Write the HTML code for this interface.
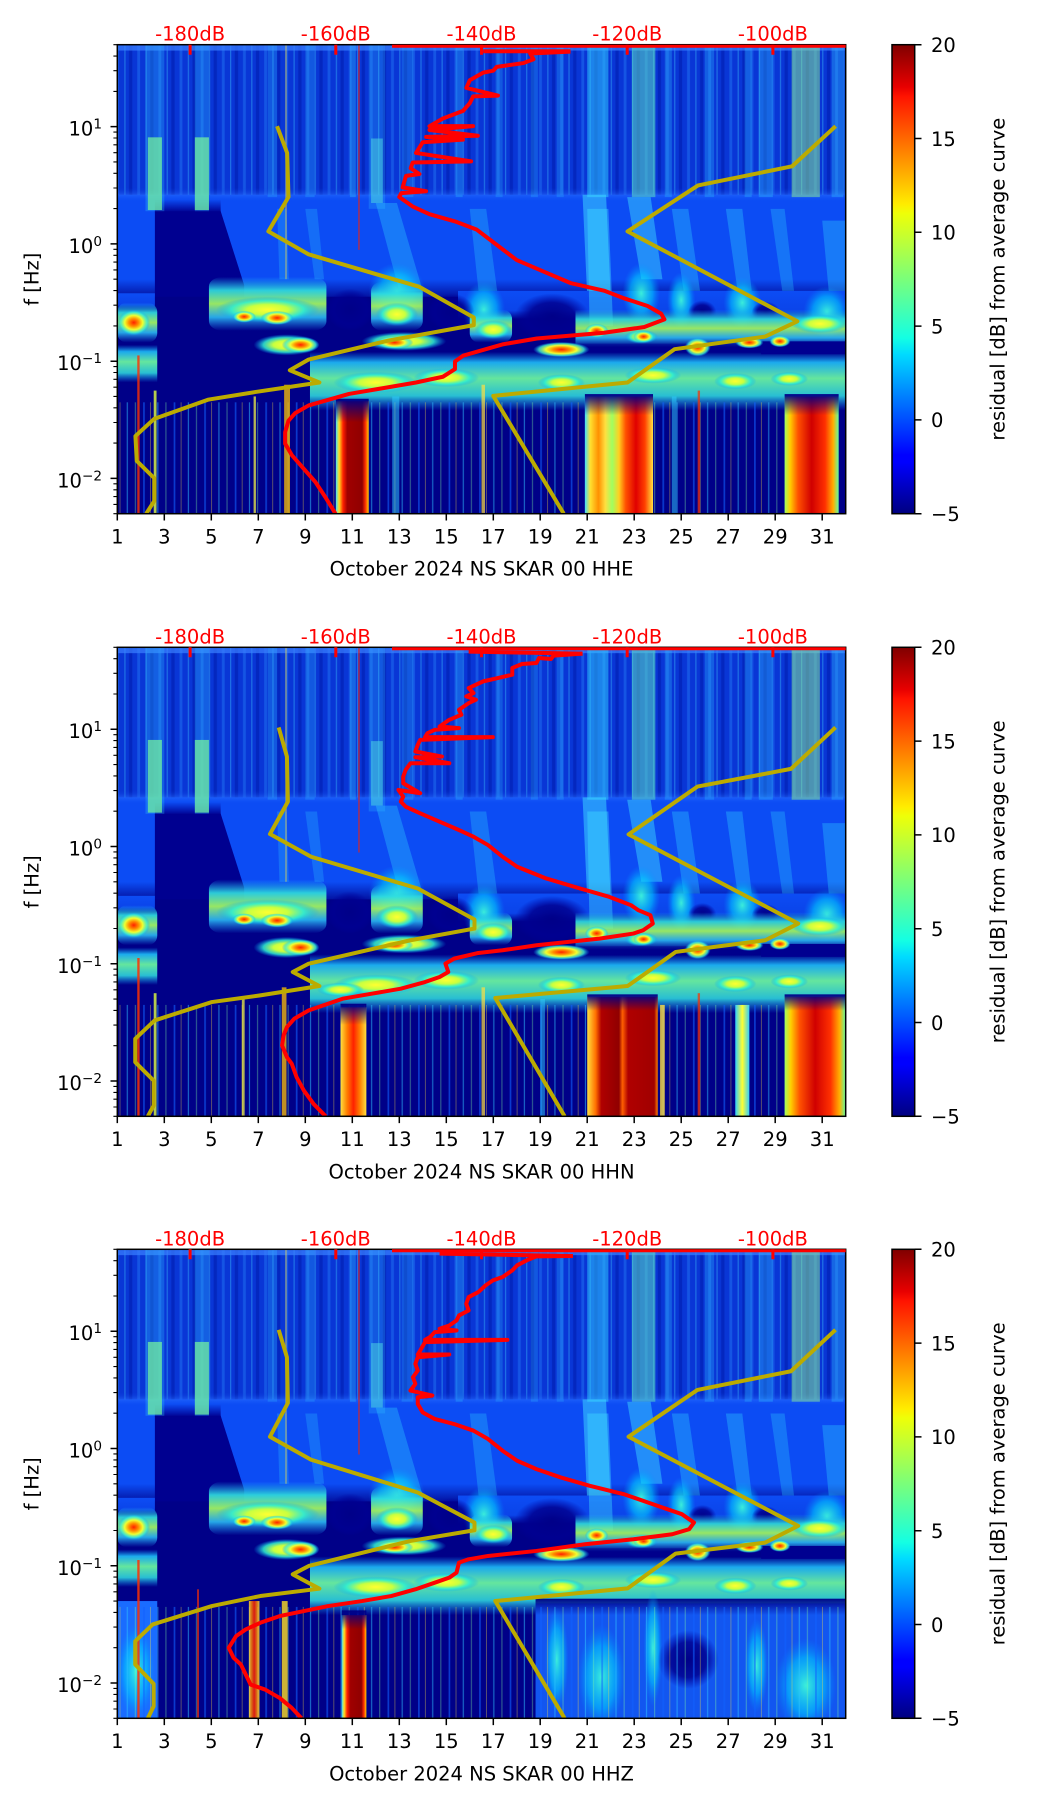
<!DOCTYPE html>
<html><head><meta charset="utf-8"><style>
html,body{margin:0;padding:0;background:#fff;}
svg{display:block;}
text{font-family:"DejaVu Sans","Liberation Sans",sans-serif;}
</style></head><body>
<svg width="1052" height="1806" viewBox="0 0 1052 1806">
<defs>
<linearGradient id="jet" x1="0" y1="1" x2="0" y2="0">
<stop offset="0" stop-color="#000080"/><stop offset=".11" stop-color="#0000ff"/><stop offset=".125" stop-color="#0000ff"/><stop offset=".34" stop-color="#00dbff"/><stop offset=".375" stop-color="#14ffe3"/><stop offset=".5" stop-color="#7aff7a"/><stop offset=".64" stop-color="#eeff08"/><stop offset=".66" stop-color="#ffec00"/><stop offset=".89" stop-color="#ff1300"/><stop offset=".91" stop-color="#e80000"/><stop offset="1" stop-color="#800000"/>
</linearGradient>
<radialGradient id="gC"><stop offset="0" stop-color="#40ffd8" stop-opacity=".9"/><stop offset=".6" stop-color="#00c8ff" stop-opacity=".6"/><stop offset="1" stop-color="#0090ff" stop-opacity="0"/></radialGradient>
<radialGradient id="gY"><stop offset="0" stop-color="#ffff30"/><stop offset=".4" stop-color="#c8ff40"/><stop offset=".7" stop-color="#30f0d0" stop-opacity=".85"/><stop offset="1" stop-color="#00a0ff" stop-opacity="0"/></radialGradient>
<radialGradient id="gO"><stop offset="0" stop-color="#ff2000"/><stop offset=".3" stop-color="#ff9000"/><stop offset=".55" stop-color="#f0ff30"/><stop offset=".8" stop-color="#40f0d0" stop-opacity=".8"/><stop offset="1" stop-color="#00a0ff" stop-opacity="0"/></radialGradient>
<radialGradient id="gN"><stop offset="0" stop-color="#000088"/><stop offset=".6" stop-color="#000090" stop-opacity=".85"/><stop offset="1" stop-color="#0000a0" stop-opacity="0"/></radialGradient>
<linearGradient id="cR"><stop offset="0" stop-color="#40e0ff"/><stop offset=".1" stop-color="#ffe020"/><stop offset=".22" stop-color="#ff2000"/><stop offset=".35" stop-color="#a00000"/><stop offset=".8" stop-color="#900000"/><stop offset=".9" stop-color="#ff3000"/><stop offset="1" stop-color="#ffd000"/></linearGradient>
<linearGradient id="cR2"><stop offset="0" stop-color="#a0ff60"/><stop offset=".1" stop-color="#ffd000"/><stop offset=".25" stop-color="#ff5000"/><stop offset=".5" stop-color="#d00000"/><stop offset=".75" stop-color="#ff3000"/><stop offset=".9" stop-color="#ffb000"/><stop offset="1" stop-color="#60ffa0"/></linearGradient>
<linearGradient id="cR3"><stop offset="0" stop-color="#ffe040"/><stop offset=".12" stop-color="#ff7000"/><stop offset=".2" stop-color="#b00000"/><stop offset=".45" stop-color="#900000"/><stop offset=".5" stop-color="#ff6000"/><stop offset=".58" stop-color="#b00000"/><stop offset=".95" stop-color="#a00000"/><stop offset="1" stop-color="#ff8000"/></linearGradient>
<linearGradient id="cW"><stop offset="0" stop-color="#40e0ff"/><stop offset=".08" stop-color="#ffe030"/><stop offset=".2" stop-color="#ff9000"/><stop offset=".3" stop-color="#ffe040"/><stop offset=".4" stop-color="#a0ff60"/><stop offset=".5" stop-color="#ffd020"/><stop offset=".6" stop-color="#ff5000"/><stop offset=".75" stop-color="#e00000"/><stop offset=".88" stop-color="#ff4000"/><stop offset="1" stop-color="#ffe040"/></linearGradient>
<linearGradient id="cO"><stop offset="0" stop-color="#ffe040"/><stop offset=".25" stop-color="#ff8000"/><stop offset=".5" stop-color="#ff2000"/><stop offset=".75" stop-color="#ff8000"/><stop offset="1" stop-color="#ffe040"/></linearGradient>
<linearGradient id="cY"><stop offset="0" stop-color="#30d0ff"/><stop offset=".5" stop-color="#ffff30"/><stop offset="1" stop-color="#30d0ff"/></linearGradient>
<linearGradient id="fd" x1="0" y1="0" x2="0" y2="1"><stop offset="0" stop-color="#000088"/><stop offset="1" stop-color="#000088" stop-opacity="0"/></linearGradient>
<linearGradient id="fBN" x1="0" y1="0" x2="0" y2="1"><stop offset="0" stop-color="#0c4cf4"/><stop offset="1" stop-color="#000088"/></linearGradient>
<linearGradient id="fNv" x1="0" y1="0" x2="0" y2="1"><stop offset="0" stop-color="#000090" stop-opacity="0"/><stop offset="1" stop-color="#000090"/></linearGradient>
<linearGradient id="fAB" x1="0" y1="0" x2="0" y2="1"><stop offset="0" stop-color="#0b40e0" stop-opacity="0"/><stop offset=".5" stop-color="#2a70ff" stop-opacity=".5"/><stop offset="1" stop-color="#0c4cf4" stop-opacity="0"/></linearGradient>
<linearGradient id="bL" x1="0" y1="0" x2="0" y2="1"><stop offset="0" stop-color="#0c4cf4"/><stop offset=".7" stop-color="#0c4cf4" stop-opacity=".9"/><stop offset="1" stop-color="#0c4cf4" stop-opacity="0"/></linearGradient>
<linearGradient id="bM" x1="0" y1="0" x2="0" y2="1"><stop offset="0" stop-color="#20c0ff" stop-opacity="0"/><stop offset=".25" stop-color="#30e0e0" stop-opacity=".9"/><stop offset=".5" stop-color="#a8ff60" stop-opacity=".9"/><stop offset=".75" stop-color="#30d0ff" stop-opacity=".8"/><stop offset="1" stop-color="#20a0ff" stop-opacity="0"/></linearGradient>
<linearGradient id="bE" x1="0" y1="0" x2="0" y2="1"><stop offset="0" stop-color="#10a0ff" stop-opacity="0"/><stop offset=".18" stop-color="#20c8ff" stop-opacity=".85"/><stop offset=".45" stop-color="#70ffa0" stop-opacity=".9"/><stop offset=".75" stop-color="#30e0e0" stop-opacity=".85"/><stop offset="1" stop-color="#10a0ff" stop-opacity="0"/></linearGradient>
<pattern id="pA" x="0" y="0" width=".9" height="400" patternUnits="userSpaceOnUse">
<rect x=".05" y="0" width=".12" height="400" fill="#2a90ff" opacity=".35"/>
<rect x=".4" y="0" width=".05" height="400" fill="#40d0ff" opacity=".4"/>
<rect x=".6" y="0" width=".14" height="400" fill="#0018a8" opacity=".5"/>
</pattern>
<pattern id="pS" x="0" y="0" width="1.3" height="400" patternUnits="userSpaceOnUse">
<rect x=".1" y="0" width=".05" height="400" fill="#30c0ff" opacity=".55"/>
<rect x=".45" y="0" width=".04" height="400" fill="#80ffa0" opacity=".45"/>
<rect x=".8" y="0" width=".07" height="400" fill="#1060ff" opacity=".6"/>
<rect x="1.1" y="0" width=".03" height="400" fill="#ffe040" opacity=".5"/>
</pattern>

<g id="top">
<rect x="1" y="0" width="31" height="130" fill="#0936d6"/>
<rect x="1" y="0" width="31" height="130" fill="url(#pA)"/>
<rect x="1" y="0" width="31" height="5" fill="#3a80ff" opacity=".7"/>
<rect x="1" y="128" width="31" height="80" fill="#0c4cf4"/>
<rect x="1" y="200" width="31" height="20" fill="url(#fBN)"/>
<rect x="1" y="122" width="31" height="12" fill="url(#fAB)"/>
<polygon points="2.6,142 5.4,142 6.4,205 6.4,218 2.6,218" fill="#000090"/>
<rect x="2.6" y="132" width="2.8" height="11" fill="url(#fNv)"/>
<rect x="2.2" y="0" width=".8" height="142" fill="#30c0ff" opacity=".3"/>
<rect x="2.3" y="79" width=".6" height="62" fill="#70f0a0" opacity=".75"/>
<rect x="4.3" y="0" width=".6" height="142" fill="#30c0ff" opacity=".3"/>
<rect x="4.3" y="79" width=".6" height="62" fill="#70f0a0" opacity=".75"/>
<rect x="7.4" y="0" width=".4" height="130" fill="#30c0ff" opacity=".25"/>
<rect x="9" y="0" width=".4" height="130" fill="#30c0ff" opacity=".25"/>
<rect x="10.9" y="0" width=".25" height="130" fill="#30c0ff" opacity=".35"/>
<rect x="11.7" y="0" width=".7" height="140" fill="#30c0ff" opacity=".25"/>
<rect x="11.8" y="80" width=".5" height="55" fill="#50e0e0" opacity=".5"/>
<rect x="13.1" y="0" width=".5" height="130" fill="#30c0ff" opacity=".25"/>
<rect x="15.4" y="0" width=".3" height="130" fill="#30c0ff" opacity=".3"/>
<rect x="17.1" y="0" width=".3" height="130" fill="#30c0ff" opacity=".25"/>
<rect x="18.6" y="0" width=".3" height="130" fill="#30c0ff" opacity=".25"/>
<rect x="19.7" y="0" width=".3" height="130" fill="#30c0ff" opacity=".25"/>
<rect x="21" y="0" width=".9" height="130" fill="#30d0ff" opacity=".5"/>
<rect x="22.9" y="0" width="1" height="130" fill="#60e8c0" opacity=".5"/>
<rect x="24.3" y="0" width=".3" height="130" fill="#30c0ff" opacity=".3"/>
<rect x="26" y="0" width=".4" height="130" fill="#30c0ff" opacity=".3"/>
<rect x="27.7" y="0" width=".3" height="130" fill="#30c0ff" opacity=".3"/>
<rect x="28.3" y="0" width=".6" height="130" fill="#30c0ff" opacity=".35"/>
<rect x="29.7" y="0" width="1.2" height="130" fill="#90f090" opacity=".5"/>
<rect x="31.4" y="0" width=".5" height="130" fill="#30c0ff" opacity=".35"/>
<polygon points="12,135 12.9,135 14,210 13,210" fill="#30d0ff" opacity=".35"/>
<polygon points="16,140 16.7,140 17.2,215 16.4,215" fill="#30d0ff" opacity=".3"/>
<polygon points="20.8,128 21.8,128 22,215 21,215" fill="#40e0ff" opacity=".5"/>
<polygon points="22.7,130 23.7,130 24.2,200 23.3,200" fill="#40e0ff" opacity=".45"/>
<polygon points="24.6,140 25.3,140 25.8,210 25.1,210" fill="#30d0ff" opacity=".35"/>
<polygon points="26.9,140 27.6,140 28,210 27.4,210" fill="#30d0ff" opacity=".35"/>
<polygon points="28.8,140 29.4,140 29.8,210 29.3,210" fill="#30d0ff" opacity=".3"/>
<polygon points="31,150 32,150 32,215 31.3,215" fill="#30d0ff" opacity=".35"/>
<polygon points="9,140 9.5,140 9.8,200 9.4,200" fill="#30d0ff" opacity=".25"/>
<polygon points="7.8,140 8.2,140 8.3,200 7.9,200" fill="#30d0ff" opacity=".25"/>
<rect x="11.25" y="0" width=".07" height="175" fill="#ff2000" opacity=".6"/>
<rect x="8.15" y="0" width=".06" height="200" fill="#ffe040" opacity=".5"/>
</g>

<g id="mid">
<rect x="1" y="215" width="31" height="185" fill="#000088"/>
<rect x="15.5" y="210" width="16.5" height="24" fill="url(#bL)"/>
<rect x="1" y="212" width="1.6" height="14" fill="url(#bL)"/>
<polygon points="21,140 21.9,140 22.1,240 21.1,240" fill="#40e0ff" opacity=".4"/>
<ellipse cx="23.3" cy="212" rx=".8" ry="26" fill="url(#gC)"/>
<ellipse cx="25" cy="218" rx=".6" ry="24" fill="url(#gC)"/>
<ellipse cx="27.6" cy="220" rx=".8" ry="22" fill="url(#gC)"/>
<ellipse cx="31.2" cy="228" rx="1" ry="22" fill="url(#gC)"/>
<ellipse cx="12.9" cy="210" rx="1.2" ry="24" fill="url(#gC)"/>
<ellipse cx="16.6" cy="226" rx=".9" ry="24" fill="url(#gC)"/>
<ellipse cx="19.5" cy="232" rx="1.6" ry="20" fill="url(#gN)"/>
<ellipse cx="25.9" cy="228" rx=".6" ry="10" fill="url(#gN)"/>
<ellipse cx="28.6" cy="228" rx=".6" ry="9" fill="url(#gN)"/>
<ellipse cx="10.9" cy="226" rx="1" ry="18" fill="url(#gN)"/>
<ellipse cx="15.2" cy="228" rx="1" ry="16" fill="url(#gN)"/>
<!-- microseism bands -->
<rect x="20.5" y="226" width="11.5" height="32" fill="url(#bM)"/>
<rect x="4.9" y="198" width="5" height="46" rx=".6" ry="8" fill="url(#bM)"/>
<rect x="11.8" y="202" width="2.2" height="42" rx=".5" ry="8" fill="url(#bM)"/>
<rect x="16" y="226" width="1.8" height="28" rx=".4" ry="8" fill="url(#bM)"/>
<rect x="1" y="220" width="1.7" height="34" rx=".4" ry="8" fill="url(#bM)"/>
<!-- band E -->
<rect x="9.2" y="262" width="22.8" height="50" fill="url(#bE)"/>
<rect x="1" y="256" width="1.7" height="32" fill="url(#bE)"/>
<rect x="28.4" y="253" width="3.6" height="11" fill="#000090"/>
<rect x="20.5" y="255" width="8" height="8" fill="#000090" opacity=".5"/>
<!-- yellow blobs -->
<ellipse cx="7.4" cy="226" rx="2.2" ry="11" fill="url(#gY)"/>
<ellipse cx="12.9" cy="230" rx=".9" ry="10" fill="url(#gY)"/>
<ellipse cx="17" cy="243" rx=".8" ry="8" fill="url(#gY)"/>
<ellipse cx="8.2" cy="256" rx="1.4" ry="9" fill="url(#gY)"/>
<ellipse cx="13.2" cy="253" rx="1.8" ry="8" fill="url(#gY)"/>
<ellipse cx="23.3" cy="249" rx=".7" ry="6" fill="url(#gY)"/>
<ellipse cx="30.9" cy="238" rx="1.2" ry="8" fill="url(#gY)"/>
<ellipse cx="12" cy="288" rx="1.8" ry="9" fill="url(#gY)"/>
<ellipse cx="15" cy="284" rx="1.4" ry="8" fill="url(#gY)"/>
<ellipse cx="19.9" cy="288" rx="1" ry="7" fill="url(#gY)"/>
<ellipse cx="23.8" cy="282" rx="1.2" ry="7" fill="url(#gY)"/>
<ellipse cx="27.3" cy="287" rx=".9" ry="7" fill="url(#gY)"/>
<ellipse cx="29.6" cy="285" rx=".8" ry="6" fill="url(#gY)"/>
<!-- orange blobs -->
<ellipse cx="1.7" cy="237" rx=".7" ry="11" fill="url(#gO)"/>
<ellipse cx="6.4" cy="232" rx=".5" ry="5" fill="url(#gO)"/>
<ellipse cx="7.8" cy="233" rx=".7" ry="6" fill="url(#gO)"/>
<ellipse cx="8.8" cy="256" rx=".8" ry="7" fill="url(#gO)"/>
<ellipse cx="12.8" cy="254" rx=".8" ry="5.5" fill="url(#gO)"/>
<ellipse cx="19.9" cy="260" rx="1.2" ry="6.5" fill="url(#gO)"/>
<ellipse cx="21.4" cy="244" rx=".5" ry="6" fill="url(#gO)"/>
<ellipse cx="23.4" cy="249" rx=".45" ry="5" fill="url(#gO)"/>
<ellipse cx="25.7" cy="258" rx=".55" ry="8" fill="url(#gO)"/>
<ellipse cx="27.9" cy="254" rx=".6" ry="5" fill="url(#gO)"/>
<ellipse cx="29.2" cy="253" rx=".45" ry="5" fill="url(#gO)"/>
</g>

<g id="ax" font-size="19.5">
<rect x="117.3" y="0" width="728.4" height="469" fill="none" stroke="#000" stroke-width="1.5"/>
<path d="M110.5 81.95H117.3M110.5 199.2H117.3M110.5 316.5H117.3M110.5 433.7H117.3" stroke="#000" stroke-width="1.5"/>
<path d="M113.4 0H117.3M113.4 11.4H117.3M113.4 26H117.3M113.4 46.7H117.3M113.4 87.4H117.3M113.4 93.3H117.3M113.4 100.1H117.3M113.4 108H117.3M113.4 117.25H117.3M113.4 128.6H117.3M113.4 143.3H117.3M113.4 163.9H117.3M113.4 204.6H117.3M113.4 210.6H117.3M113.4 217.4H117.3M113.4 225.2H117.3M113.4 234.5H117.3M113.4 245.9H117.3M113.4 260.5H117.3M113.4 281.2H117.3M113.4 321.9H117.3M113.4 327.8H117.3M113.4 334.6H117.3M113.4 342.5H117.3M113.4 351.75H117.3M113.4 363.1H117.3M113.4 377.8H117.3M113.4 398.4H117.3M113.4 439.1H117.3M113.4 445.1H117.3M113.4 451.9H117.3M113.4 459.7H117.3M113.4 469H117.3" stroke="#000" stroke-width="1.1"/>
<path d="M117.3 469v6.8M164.3 469v6.8M211.3 469v6.8M258.3 469v6.8M305.3 469v6.8M352.3 469v6.8M399.3 469v6.8M446.3 469v6.8M493.3 469v6.8M540.2 469v6.8M587.2 469v6.8M634.2 469v6.8M681.2 469v6.8M728.2 469v6.8M775.2 469v6.8M822.2 469v6.8" stroke="#000" stroke-width="1.5"/>
<g text-anchor="middle">
<text x="117.3" y="498.6">1</text><text x="164.3" y="498.6">3</text><text x="211.3" y="498.6">5</text><text x="258.3" y="498.6">7</text><text x="305.3" y="498.6">9</text><text x="352.3" y="498.6">11</text><text x="399.3" y="498.6">13</text><text x="446.3" y="498.6">15</text><text x="493.3" y="498.6">17</text><text x="540.2" y="498.6">19</text><text x="587.2" y="498.6">21</text><text x="634.2" y="498.6">23</text><text x="681.2" y="498.6">25</text><text x="728.2" y="498.6">27</text><text x="775.2" y="498.6">29</text><text x="822.2" y="498.6">31</text>
</g>
<g text-anchor="end">
<text x="102" y="90.95">10<tspan dy="-7" font-size="13.6">1</tspan></text>
<text x="102" y="208.2">10<tspan dy="-7" font-size="13.6">0</tspan></text>
<text x="102" y="325.5">10<tspan dy="-7" font-size="13.6">−1</tspan></text>
<text x="102" y="442.7">10<tspan dy="-7" font-size="13.6">−2</tspan></text>
</g>
<g fill="#ff0000" text-anchor="middle">
<text x="190.1" y="-4">-180dB</text><text x="335.8" y="-4">-160dB</text><text x="481.5" y="-4">-140dB</text><text x="627.2" y="-4">-120dB</text><text x="772.9" y="-4">-100dB</text>
</g>
<path d="M190.1 0v10M335.8 0v10M481.5 0v10M627.2 0v10M772.9 0v10" stroke="#ff0000" stroke-width="3"/>
<line x1="392" y1="1.5" x2="845.7" y2="1.5" stroke="#ff0000" stroke-width="3"/>
<text transform="translate(38.5,234.5) rotate(-90)" text-anchor="middle">f [Hz]</text>
<rect x="892" y="0" width="22.7" height="469" fill="url(#jet)" stroke="#000" stroke-width="1.5"/>
<path d="M914.7 0h6.8M914.7 93.8h6.8M914.7 187.6h6.8M914.7 281.4h6.8M914.7 375.2h6.8M914.7 469h6.8" stroke="#000" stroke-width="1.5"/>
<text x="931" y="7.3">20</text><text x="931" y="101.1">15</text><text x="931" y="194.9">10</text><text x="931" y="288.7">5</text><text x="931" y="382.5">0</text><text x="931" y="476.3">−5</text>
<text transform="translate(1004.5,234.5) rotate(-90)" text-anchor="middle">residual [dB] from average curve</text>
</g>
</defs>

<!-- ============ PLOT 1 (HHE) ============ -->
<svg x="117.3" y="44.7" width="728.4" height="469" viewBox="1 0 31 400" preserveAspectRatio="none">
<use href="#top"/>
<use href="#mid"/>
<rect x="1" y="305" width="31" height="95" fill="url(#pS)"/>
<rect x="10.3" y="304" width="1.4" height="96" fill="url(#cR)"/>
<rect x="20.9" y="300" width="2.9" height="100" fill="url(#cW)"/>
<rect x="29.4" y="300" width="2.3" height="100" fill="url(#cR2)"/>
<rect x="10.3" y="302" width="1.4" height="20" fill="url(#fd)"/>
<rect x="20.9" y="298" width="2.9" height="18" fill="url(#fd)"/>
<rect x="29.4" y="298" width="2.3" height="18" fill="url(#fd)"/>
<rect x="1.85" y="265" width=".1" height="135" fill="#ff3000" opacity=".8"/>
<rect x="2.55" y="295" width=".12" height="105" fill="#e0ff40" opacity=".8"/>
<rect x="6.8" y="300" width=".1" height="100" fill="#ffff40" opacity=".7"/>
<rect x="8.1" y="290" width=".25" height="110" fill="#ffc000" opacity=".75"/>
<rect x="12.7" y="300" width=".3" height="100" fill="#30d0ff" opacity=".5"/>
<rect x="16.5" y="290" width=".15" height="110" fill="#ffe040" opacity=".7"/>
<rect x="25.7" y="295" width=".1" height="105" fill="#ff3000" opacity=".7"/>
<rect x="24.6" y="300" width=".2" height="100" fill="#30d0ff" opacity=".5"/>
</svg>
<svg x="117.3" y="44.7" width="728.4" height="469" viewBox="175 117 1085 1226" preserveAspectRatio="none">
<polyline vector-effect="non-scaling-stroke" stroke="#bcab00" stroke-width="4" fill="none" stroke-linejoin="round" points="413,330 428,400 430,515 400,605 460,665 625,750 706,830 706,850 580,890 460,940 432,968 476,1000 380,1025 310,1045 230,1095 202,1140 204,1205 230,1250 230,1310 218,1343"/>
<polyline vector-effect="non-scaling-stroke" stroke="#bcab00" stroke-width="4" fill="none" stroke-linejoin="round" points="1245,330 1180,435 1040,485 935,605 1188,840 1140,880 1005,913 935,1000 735,1035 840,1343"/>
<polyline vector-effect="non-scaling-stroke" stroke="#ff0000" stroke-width="4" fill="none" points="720,134 850,134"/>
<polyline vector-effect="non-scaling-stroke" stroke="#ff0000" stroke-width="4" fill="none" stroke-linejoin="round" points="850,135 790,140 795,155 780,165 740,175 735,185 720,190 700,210 695,230 742,250 705,252 700,270 690,290 660,310 640,330 705,330 640,340 712,355 635,358 690,365 630,372 620,400 702,422 615,425 612,440 625,455 605,460 600,490 635,500 598,505 595,515 615,540 640,560 680,580 710,600 740,640 770,680 810,710 850,740 900,760 930,780 965,800 985,820 990,835 960,855 900,870 800,885 750,900 720,915 690,930 678,945 678,965 660,985 620,1000 570,1015 520,1030 490,1045 460,1060 440,1080 430,1100 425,1130 425,1160 435,1190 450,1220 470,1260 485,1300 500,1343"/>
</svg>
<use href="#ax" y="44.7"/>
<text x="481.5" y="575.7" font-size="19.5" text-anchor="middle">October 2024 NS SKAR 00 HHE</text>

<!-- ============ PLOT 2 (HHN) ============ -->
<svg x="117.3" y="647.3" width="728.4" height="469" viewBox="1 0 31 400" preserveAspectRatio="none">
<use href="#top"/>
<use href="#mid"/>
<ellipse cx="10.5" cy="292" rx="1" ry="6" fill="url(#gY)"/>
<rect x="1" y="305" width="31" height="95" fill="url(#pS)"/>
<rect x="10.5" y="307" width="1.1" height="93" fill="url(#cO)"/>
<rect x="21" y="298" width="3" height="102" fill="url(#cR3)"/>
<rect x="29.4" y="298" width="2.6" height="102" fill="url(#cR2)"/>
<rect x="27.3" y="305" width=".6" height="95" fill="url(#cY)"/>
<rect x="24.1" y="305" width=".2" height="95" fill="#ffe040" opacity=".8"/>
<rect x="10.5" y="304" width="1.1" height="18" fill="url(#fd)"/>
<rect x="21" y="296" width="3" height="14" fill="url(#fd)"/>
<rect x="29.4" y="296" width="2.6" height="14" fill="url(#fd)"/>
<rect x="1.85" y="265" width=".1" height="135" fill="#ff3000" opacity=".85"/>
<rect x="2.55" y="295" width=".12" height="105" fill="#e0ff40" opacity=".8"/>
<rect x="6.3" y="300" width=".12" height="100" fill="#ffff40" opacity=".7"/>
<rect x="8" y="290" width=".2" height="110" fill="#ffc000" opacity=".75"/>
<rect x="16.5" y="290" width=".15" height="110" fill="#ffe040" opacity=".7"/>
<rect x="19" y="300" width=".2" height="100" fill="#30d0ff" opacity=".5"/>
<rect x="25.7" y="295" width=".1" height="105" fill="#ff3000" opacity=".7"/>
</svg>
<svg x="117.3" y="647.3" width="728.4" height="469" viewBox="35 53 1503 1404" preserveAspectRatio="none">
<polyline vector-effect="non-scaling-stroke" stroke="#bcab00" stroke-width="4" fill="none" stroke-linejoin="round" points="368,293 385,380 387,515 350,612 435,680 655,775 772,868 772,895 640,930 430,1000 397,1025 452,1067 330,1095 230,1115 112,1170 72,1225 72,1295 110,1350 110,1425 98,1457"/>
<polyline vector-effect="non-scaling-stroke" stroke="#bcab00" stroke-width="4" fill="none" stroke-linejoin="round" points="1517,293 1425,417 1232,470 1090,613 1440,880 1372,930 1187,965 1088,1067 815,1103 958,1457"/>
<polyline vector-effect="non-scaling-stroke" stroke="#ff0000" stroke-width="4" fill="none" points="760,66 995,72"/>
<polyline vector-effect="non-scaling-stroke" stroke="#ff0000" stroke-width="4" fill="none" stroke-linejoin="round" points="995,72 935,78 930,88 905,85 900,100 870,103 850,115 850,135 820,145 790,155 775,165 760,175 770,190 755,200 775,210 760,220 740,240 745,255 720,270 700,290 740,295 690,300 675,310 670,322 810,322 660,330 655,345 650,365 705,380 650,382 720,400 640,400 630,420 625,440 625,460 660,490 615,480 625,500 620,515 630,530 660,550 700,575 740,600 770,620 800,645 830,680 860,710 920,745 990,775 1050,800 1095,825 1110,840 1135,855 1140,880 1120,900 1100,910 1030,925 900,945 830,960 780,968 730,985 712,1000 718,1025 700,1040 670,1055 620,1075 560,1090 500,1105 460,1125 430,1140 400,1165 385,1190 378,1215 375,1245 385,1280 395,1300 405,1340 420,1380 440,1420 465,1457"/>
</svg>
<use href="#ax" y="647.3"/>
<text x="481.5" y="1178.3" font-size="19.5" text-anchor="middle">October 2024 NS SKAR 00 HHN</text>

<!-- ============ PLOT 3 (HHZ) ============ -->
<svg x="117.3" y="1249.3" width="728.4" height="469" viewBox="1 0 31 400" preserveAspectRatio="none">
<use href="#top"/>
<use href="#mid"/>
<rect x="18.8" y="302" width="13.2" height="98" fill="#1256f0"/>
<rect x="1" y="300" width="1.7" height="100" fill="#1a6cff"/>
<rect x="18.8" y="298" width="13.2" height="14" fill="url(#fd)"/>
<ellipse cx="21.6" cy="365" rx="1" ry="45" fill="url(#gC)"/>
<ellipse cx="30.3" cy="372" rx="1.3" ry="40" fill="url(#gC)"/>
<ellipse cx="19.7" cy="350" rx=".5" ry="45" fill="url(#gC)"/>
<ellipse cx="28.2" cy="355" rx=".5" ry="40" fill="url(#gC)"/>
<ellipse cx="23.8" cy="340" rx=".4" ry="50" fill="url(#gC)"/>
<ellipse cx="1.8" cy="360" rx=".8" ry="40" fill="url(#gC)"/>
<ellipse cx="25.3" cy="350" rx="1.3" ry="25" fill="url(#gN)"/>
<rect x="1" y="305" width="31" height="95" fill="url(#pS)"/>
<rect x="10.55" y="312" width="1.05" height="88" fill="url(#cR)"/>
<rect x="10.55" y="308" width="1.05" height="16" fill="url(#fd)"/>
<rect x="8" y="300" width=".25" height="100" fill="#ffe020" opacity=".8"/>
<rect x="6.6" y="300" width=".45" height="100" fill="url(#cO)" opacity=".85"/>
<rect x="4.4" y="290" width=".07" height="110" fill="#ff3000" opacity=".8"/>
<rect x="1.85" y="265" width=".1" height="135" fill="#ff3000" opacity=".85"/>
</svg>
<svg x="117.3" y="1249.3" width="728.4" height="469" viewBox="35 57 1503 1404" preserveAspectRatio="none">
<polyline vector-effect="non-scaling-stroke" stroke="#bcab00" stroke-width="4" fill="none" stroke-linejoin="round" points="368,298 385,380 387,517 350,618 435,687 655,785 772,875 772,898 640,930 430,1005 397,1030 452,1073 330,1095 230,1125 108,1180 72,1230 72,1300 110,1358 110,1425 98,1461"/>
<polyline vector-effect="non-scaling-stroke" stroke="#bcab00" stroke-width="4" fill="none" stroke-linejoin="round" points="1517,298 1425,422 1232,478 1090,618 1440,885 1372,935 1187,968 1088,1072 815,1110 958,1461"/>
<polyline vector-effect="non-scaling-stroke" stroke="#ff0000" stroke-width="4" fill="none" points="700,70 975,77"/>
<polyline vector-effect="non-scaling-stroke" stroke="#ff0000" stroke-width="4" fill="none" stroke-linejoin="round" points="975,77 900,78 880,90 860,105 850,120 840,130 830,140 810,150 795,165 780,185 760,200 755,220 760,240 740,255 735,270 720,285 700,295 735,300 690,305 680,320 670,328 840,328 670,335 660,360 655,372 720,372 655,380 650,400 655,420 645,440 650,460 640,480 685,495 655,500 655,520 665,545 690,565 730,580 770,600 800,625 830,660 860,690 900,715 950,740 1010,765 1080,790 1150,825 1200,850 1225,875 1215,895 1180,910 1100,925 1000,940 900,960 800,975 760,985 740,995 735,1025 720,1040 690,1055 650,1075 600,1095 540,1110 470,1125 420,1140 370,1155 330,1175 300,1195 280,1215 265,1250 275,1280 290,1300 300,1330 310,1360 340,1375 370,1400 395,1430 415,1461"/>
</svg>
<use href="#ax" y="1249.3"/>
<text x="481.5" y="1780.3" font-size="19.5" text-anchor="middle">October 2024 NS SKAR 00 HHZ</text>
</svg>
</body></html>
